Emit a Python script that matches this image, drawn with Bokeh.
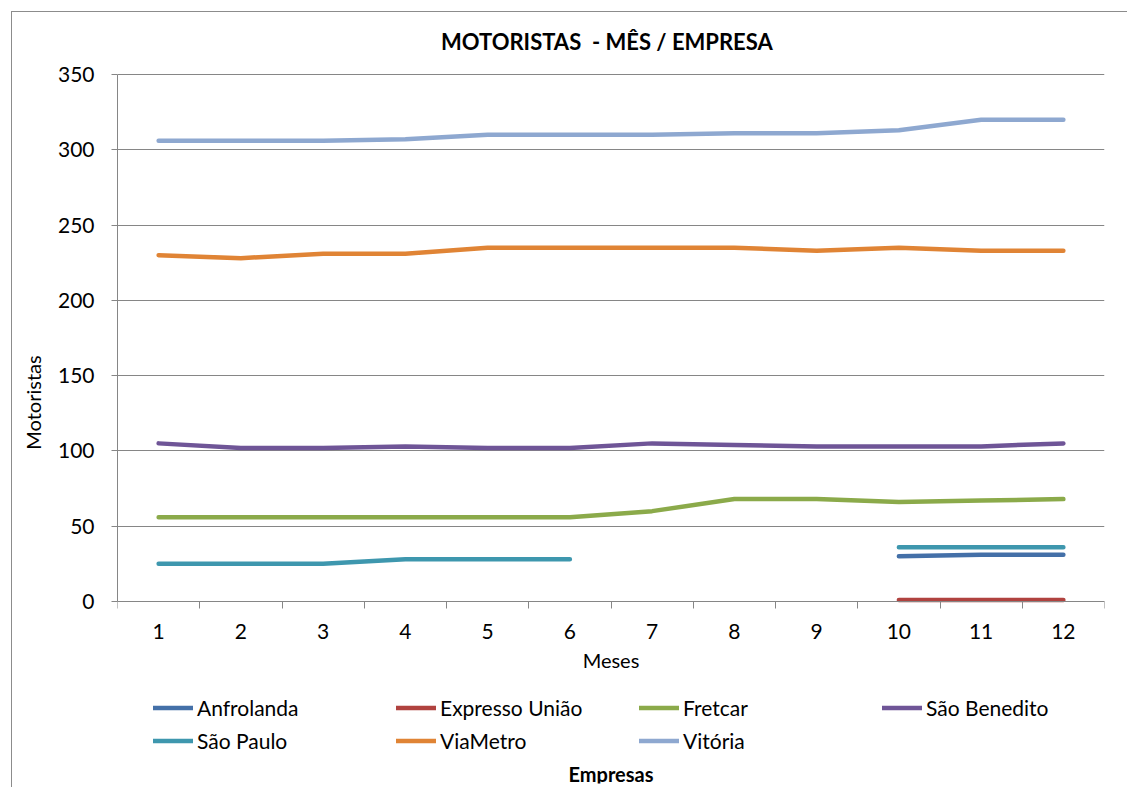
from bokeh.plotting import figure
from bokeh.models import (Legend, LegendItem, FixedTicker, Range1d, Label)
from bokeh.embed import file_html
from bokeh.resources import INLINE

months = [1, 2, 3, 4, 5, 6, 7, 8, 9, 10, 11, 12]
nan = float("nan")
anfrolanda = [nan, nan, nan, nan, nan, nan, nan, nan, nan, 30, 31, 31]
expresso_uniao = [nan, nan, nan, nan, nan, nan, nan, nan, nan, 1, 1, 1]
fretcar = [56, 56, 56, 56, 56, 56, 60, 68, 68, 66, 67, 68]
sao_benedito = [105, 102, 102, 103, 102, 102, 105, 104, 103, 103, 103, 105]
sao_paulo = [25, 25, 25, 28, 28, 28, nan, nan, nan, 36, 36, 36]
viametro = [230, 228, 231, 231, 235, 235, 235, 235, 233, 235, 233, 233]
vitoria = [306, 306, 306, 307, 310, 310, 310, 311, 311, 313, 320, 320]
y_ticks = [0, 50, 100, 150, 200, 250, 300, 350]

names = ["Anfrolanda", "Expresso União", "Fretcar", "São Benedito",
         "São Paulo", "ViaMetro", "Vitória"]
series = [anfrolanda, expresso_uniao, fretcar, sao_benedito, sao_paulo, viametro, vitoria]
colors = ["#4470A8", "#B0423F", "#8BAA4A", "#6F5597", "#3E97AE", "#E08435", "#8EA8D0"]

FONT = "Lato"

p = figure(width=1116, height=776, output_backend="svg", toolbar_location=None,
           x_range=Range1d(0.5, 12.5), y_range=Range1d(-120.9, 385.2),
           min_border_left=105, min_border_right=24, min_border_top=9,
           min_border_bottom=5)
p.margin = (11, 0, 0, 11)
p.styles = {"border-left": "1px solid #8c8c8c", "border-top": "1px solid #8c8c8c"}
p.background_fill_color = "white"
p.border_fill_color = "white"
p.outline_line_color = None

title = Label(x=6.45, y=371.9, text="MOTORISTAS \u00a0- MÊS / EMPRESA",
              text_align="center", text_baseline="middle",
              text_font=FONT, text_font_size="22px", text_font_style="bold",
              text_color="black")
p.add_layout(title)

# y axis
p.yaxis.ticker = FixedTicker(ticks=y_ticks)
p.yaxis.bounds = (0, 350)
p.yaxis.axis_line_color = "#868686"
p.yaxis.major_tick_line_color = "#868686"
p.yaxis.major_tick_out = 6
p.yaxis.major_tick_in = 0
p.yaxis.minor_tick_line_color = None
p.yaxis.major_label_text_font = FONT
p.yaxis.major_label_text_font_size = "21px"
p.yaxis.major_label_text_color = "black"
p.yaxis.major_label_standoff = 17
p.yaxis.axis_label = "Motoristas"
p.yaxis.axis_label_text_font = FONT
p.yaxis.axis_label_text_font_size = "20px"
p.yaxis.axis_label_text_font_style = "normal"
p.yaxis.axis_label_text_color = "black"
p.yaxis.axis_label_standoff = 10
p.yaxis.axis_label_text_baseline = "middle"

# x axis
p.xaxis.fixed_location = 0
p.xaxis.ticker = FixedTicker(ticks=months, minor_ticks=[m - 0.5 for m in months] + [12.5])
p.xaxis.axis_line_color = "#868686"
p.xaxis.major_tick_line_color = None
p.xaxis.minor_tick_line_color = "#868686"
p.xaxis.minor_tick_out = 7
p.xaxis.minor_tick_in = 0
p.xaxis.major_label_text_font = FONT
p.xaxis.major_label_text_font_size = "21px"
p.xaxis.major_label_text_color = "black"
p.xaxis.major_label_standoff = 16
p.xaxis.axis_label = "Meses"
p.xaxis.axis_label_text_font = FONT
p.xaxis.axis_label_text_font_size = "20px"
p.xaxis.axis_label_text_font_style = "normal"
p.xaxis.axis_label_text_color = "black"
p.xaxis.axis_label_standoff = 5

p.xgrid.grid_line_color = None
p.ygrid.ticker = FixedTicker(ticks=y_ticks)
p.ygrid.grid_line_color = "#868686"
p.ygrid.grid_line_width = 1

renderers = []
for name, vals, col in zip(names, series, colors):
    r = p.line(months, vals, line_color=col, line_width=4.5, line_cap="round",
               line_join="round")
    renderers.append(r)

items = [LegendItem(label=n, renderers=[r]) for n, r in zip(names, renderers)]
legend = Legend(items=items, orientation="horizontal", ncols=4,
                location=(36, 28), glyph_width=40, glyph_height=29,
                label_width=195, label_height=29, label_standoff=4, spacing=4,
                padding=0, margin=0, border_line_color=None,
                background_fill_alpha=0,
                label_text_font=FONT, label_text_font_size="21px",
                label_text_color="black")
p.add_layout(legend, "center")

emp = Label(x=6.5, y=-114.9, text="Empresas", text_align="center",
            text_baseline="middle", text_font=FONT, text_font_size="20px",
            text_font_style="bold", text_color="black")
p.add_layout(emp)

open("out.html", "w").write(file_html(p, INLINE))
